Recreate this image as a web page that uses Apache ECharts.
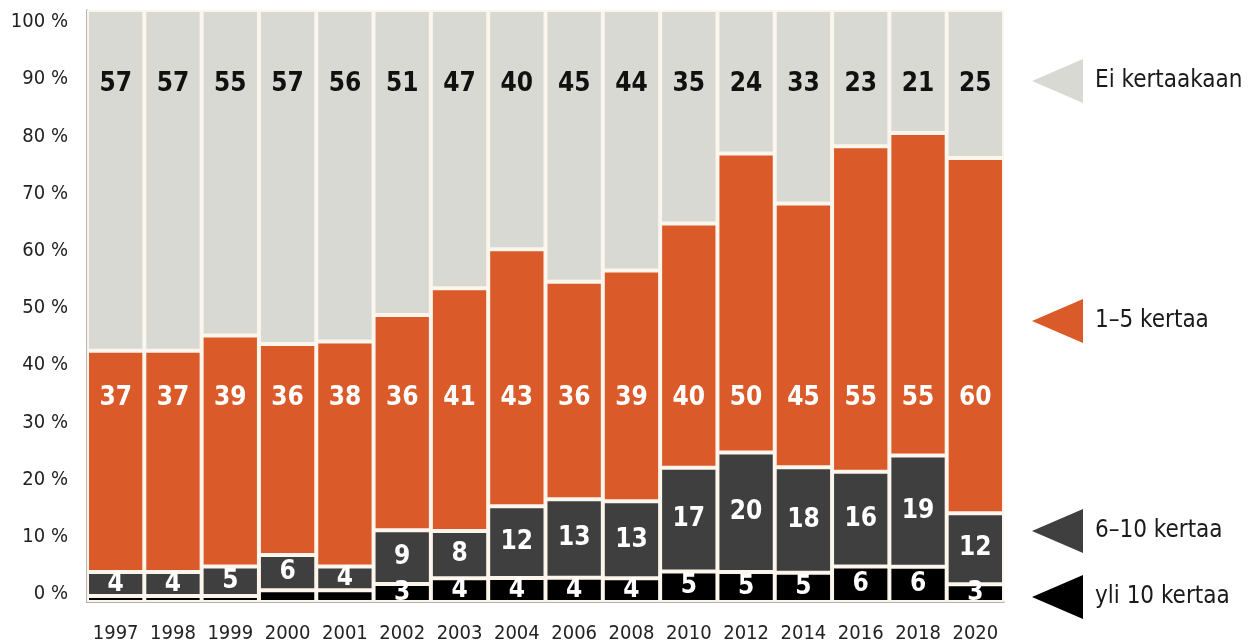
<!DOCTYPE html>
<html>
<head>
<meta charset="utf-8">
<script src="https://cdn.jsdelivr.net/npm/echarts@6/dist/echarts.min.js"></script>
<style>
  html, body { margin: 0; padding: 0; background: #fff; }
  #chart { width: 1251px; height: 644px; }
</style>
</head>
<body>
<div id="chart"></div>
<script>
// vuodet
const years = ['1997', '1998', '1999', '2000', '2001', '2002', '2003', '2004',
  '2006', '2008', '2010', '2012', '2014', '2016', '2018', '2020']

// osuudet (%), alhaalta ylös
const yli10 = [1, 1, 1, 2, 2, 3, 4, 4, 4, 4, 5, 5, 5, 6, 6, 3]
const kerta6to10 = [4, 4, 5, 6, 4, 9, 8, 12, 13, 13, 17, 20, 18, 16, 19, 12]
const kerta1to5 = [37, 37, 39, 36, 38, 36, 41, 43, 36, 39, 40, 50, 45, 55, 55, 60]
const eiKertaakaan = [57, 57, 55, 57, 56, 51, 47, 40, 45, 44, 35, 24, 33, 23, 21, 25]

const seriesNames = ['yli 10 kertaa', '6–10 kertaa', '1–5 kertaa', 'Ei kertaakaan']
const rawData = [yli10, kerta6to10, kerta1to5, eiKertaakaan]

const FONT = "'Liberation Sans Narrow', 'DejaVu Sans Condensed', 'Noto Sans', sans-serif"
const colors = ['#000000', '#3f3f3f', '#da5a29', '#d9d9d3']
const labelColors = ['#fff', '#fff', '#fff', '#111']
// fixed label rows (in % of the bar) for the two upper series
const labelLevel = [null, null, 34.4, 87.4]

// pinotaan 100 %:iin
const totals = years.map((_, i) => rawData.reduce((s, arr) => s + arr[i], 0))
const norm = rawData.map(arr => arr.map((v, i) => v / totals[i] * 100))

const chart = echarts.init(document.getElementById('chart'))

const series = rawData.map((arr, s) => ({
  name: seriesNames[s],
  type: 'bar',
  stack: 'total',
  barCategoryGap: '0%',
  xAxisIndex: 0,
  yAxisIndex: 0,
  itemStyle: { color: colors[s], borderColor: '#fbf5ec', borderWidth: 2 },
  label: {
    show: true,
    position: 'inside',
    color: labelColors[s],
    fontFamily: FONT,
    fontWeight: 'bold',
    fontSize: 26,
    formatter: p => (arr[p.dataIndex] >= 3 ? String(arr[p.dataIndex]) : '')
  },
  data: norm[s].map((v, i) => {
    if (labelLevel[s] == null) return v
    const bottom = norm.slice(0, s).reduce((acc, a) => acc + a[i], 0)
    const top = bottom + v
    const pct = (top - labelLevel[s]) / v * 100
    return {
      value: v,
      label: { position: ['50%', pct + '%'], align: 'center', verticalAlign: 'middle' }
    }
  })
}))

// legend items placed next to the last bar
const legendTops = [575, 509, 299, 59]
const legends = seriesNames.map((name, s) => ({
  data: [name],
  left: 1032,
  top: legendTops[s],
  padding: 0,
  orient: 'vertical',
  selectedMode: false,
  itemWidth: 51,
  itemHeight: 44,
  icon: 'path://M0,22 L51,0 L51,44 Z',
  itemStyle: { borderWidth: 0 },
  textStyle: { fontFamily: FONT, fontSize: 24, color: '#1a1a1a', padding: [0, 0, 0, 7] }
}))

const option = {
  animation: false,
  backgroundColor: '#fff',
  color: colors,
  legend: legends,
  grid: [
    { left: 87, right: 247, top: 10, height: 593 },
    { left: 87, right: 247, top: 22, height: 572 }
  ],
  xAxis: [
    {
      type: 'category',
      gridIndex: 0,
      data: years,
      axisLine: { lineStyle: { color: '#9a9a9a', width: 1.5 } },
      axisTick: { show: false },
      axisLabel: { fontFamily: FONT, fontSize: 20, color: '#222', margin: 22, interval: 0 }
    },
    { type: 'value', gridIndex: 1, min: 0, max: 1, show: false }
  ],
  yAxis: [
    {
      type: 'value',
      gridIndex: 0,
      min: 0,
      max: 100,
      axisLine: { show: true, lineStyle: { color: '#9a9a9a', width: 1.5 } },
      axisTick: { show: false },
      axisLabel: { show: false },
      splitLine: { show: false }
    },
    {
      type: 'value',
      gridIndex: 1,
      min: 0,
      max: 100,
      interval: 10,
      axisLine: { show: false },
      axisTick: { show: false },
      splitLine: { show: false },
      axisLabel: {
        fontFamily: FONT,
        fontSize: 20,
        color: '#222',
        margin: 19,
        formatter: '{value} %'
      }
    }
  ],
  series
}

chart.setOption(option)
window.addEventListener('resize', () => chart.resize())
</script>
</body>
</html>
